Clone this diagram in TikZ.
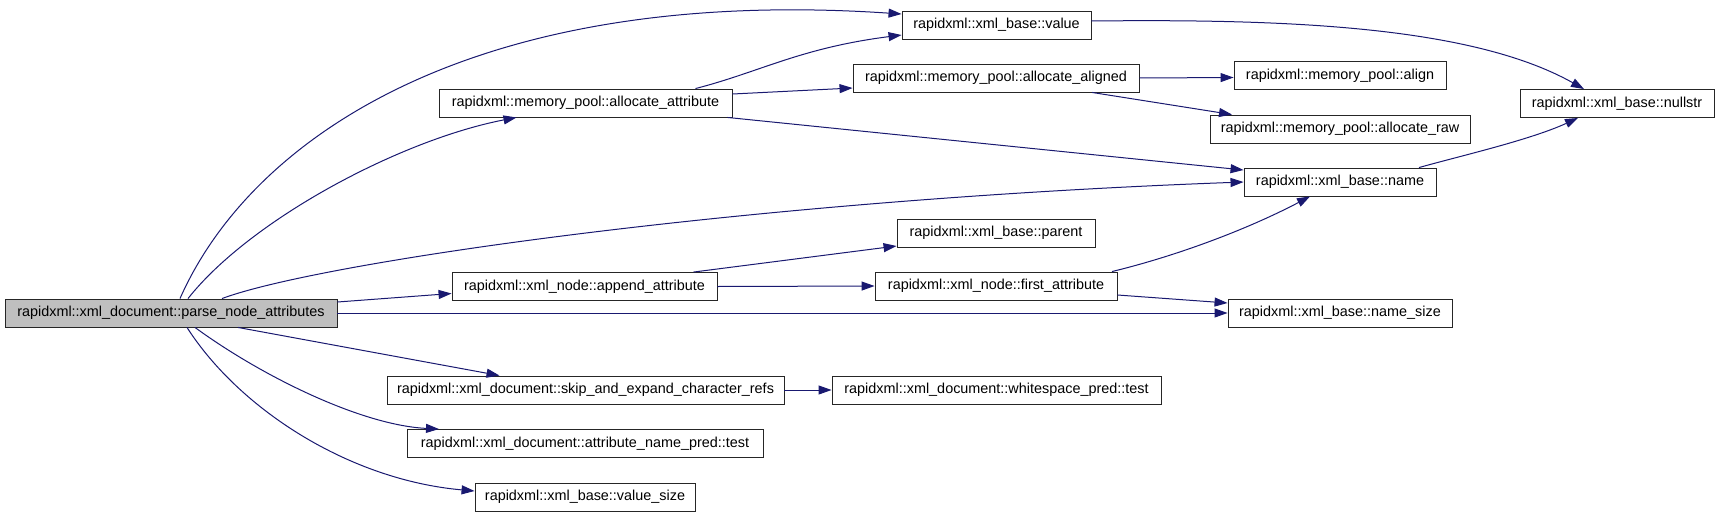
\documentclass[tikz,border=0pt]{standalone}
\usepackage{fontspec}
\setmainfont{Liberation Sans}
\usetikzlibrary{arrows.meta,positioning,calc}

\definecolor{callblue}{HTML}{191970}
\definecolor{mainfill}{HTML}{BFBFBF}

\tikzset{
	fn/.style={draw=black!85, line width=0.9pt, rectangle, fill=white, minimum height=28pt, inner sep=0pt, font=\fontsize{14.4}{17}\selectfont},
	mainfn/.style={fn, fill=mainfill},
	call/.style={draw=callblue, line width=1pt, -{Triangle[length=13pt,width=9pt]}}
}

\begin{document}
\begin{tikzpicture}[x=1pt, y=-1pt]
	\useasboundingbox (0,0) rectangle (1717,517);
	
	% caller
	\node[mainfn, minimum width=332pt] (parse) at (171,313) {rapidxml::xml\_document::parse\_node\_attributes};
	
	% second column
	\node[fn, minimum width=293pt] (allocattr) at (585.5,103) {rapidxml::memory\_pool::allocate\_attribute};
	\node[fn, minimum width=265pt] (append) at (584.5,286.5) {rapidxml::xml\_node::append\_attribute};
	\node[fn, minimum width=397pt] (skip) at (585.5,390) {rapidxml::xml\_document::skip\_and\_expand\_character\_refs};
	\node[fn, minimum width=356pt] (attrpred) at (585,443.5) {rapidxml::xml\_document::attribute\_name\_pred::test};
	\node[fn, minimum width=220pt] (valuesize) at (585,497) {rapidxml::xml\_base::value\_size};
	
	% third column
	\node[fn, minimum width=189pt] (value) at (996.5,25) {rapidxml::xml\_base::value};
	\node[fn, minimum width=286pt] (aligned) at (996,78) {rapidxml::memory\_pool::allocate\_aligned};
	\node[fn, minimum width=198pt] (parent) at (996,233) {rapidxml::xml\_base::parent};
	\node[fn, minimum width=242pt] (firstattr) at (996,286) {rapidxml::xml\_node::first\_attribute};
	\node[fn, minimum width=329pt] (wspace) at (996.5,390) {rapidxml::xml\_document::whitespace\_pred::test};
	
	% fourth column
	\node[fn, minimum width=212pt] (align) at (1340,75.5) {rapidxml::memory\_pool::align};
	\node[fn, minimum width=260pt] (allocraw) at (1340,129) {rapidxml::memory\_pool::allocate\_raw};
	\node[fn, minimum width=192pt] (name) at (1340,182) {rapidxml::xml\_base::name};
	\node[fn, minimum width=224pt] (namesize) at (1340,313) {rapidxml::xml\_base::name\_size};
	
	% last column
	\node[fn, minimum width=194pt] (nullstr) at (1617,103.5) {rapidxml::xml\_base::nullstr};
	
	% calls from parse_node_attributes
	\draw[call] ([xshift=9pt]parse.north) .. controls (250,140) and (470,-15) .. ([yshift=11pt]value.west);
	\draw[call] ([xshift=17pt]parse.north) .. controls (250,220) and (400,140) .. ([xshift=-69pt]allocattr.south);
	\draw[call] ([xshift=51pt]parse.north) .. controls (320,262) and (750,200) .. (name.west);
	\draw[call] ([yshift=11pt]parse.east) -- ([yshift=-7pt]append.west);
	\draw[call] (parse.east) -- (namesize.west);
	\draw[call] ([xshift=67pt]parse.south) -- ([xshift=-86pt]skip.north);
	\draw[call] ([xshift=24pt]parse.south) .. controls (260,375) and (360,425) .. ([xshift=-146pt]attrpred.north);
	\draw[call] ([xshift=16pt]parse.south) .. controls (240,410) and (350,480) .. ([yshift=6pt]valuesize.west);
	
	% calls further on
	\draw[call] ([xshift=110pt]allocattr.north) .. controls (760,72) and (800,48) .. ([yshift=-10pt]value.west);
	\draw[call] ([yshift=9pt]allocattr.east) -- ([yshift=-10pt]aligned.west);
	\draw[call] ([xshift=142pt]allocattr.south) -- ([yshift=12pt]name.west);
	\draw[call] (aligned.east) -- ([yshift=-2pt]align.west);
	\draw[call] ([xshift=96pt]aligned.south) -- ([xshift=-108pt]allocraw.north);
	\draw[call] ([yshift=4pt]value.east) .. controls (1280,19) and (1470,25) .. ([xshift=-33pt]nullstr.north);
	\draw[call] ([xshift=79pt]name.north) .. controls (1460,156) and (1530,140) .. ([xshift=-39pt]nullstr.south);
	\draw[call] ([xshift=109pt]append.north) -- ([yshift=-13pt]parent.west);
	\draw[call] (append.east) -- (firstattr.west);
	\draw[call] ([xshift=116pt]firstattr.north) .. controls (1180,255) and (1250,228) .. ([xshift=-30pt]name.south);
	\draw[call] ([yshift=-9pt]firstattr.east) -- ([yshift=10pt]namesize.west);
	\draw[call] (skip.east) -- (wspace.west);
\end{tikzpicture}
\end{document}
